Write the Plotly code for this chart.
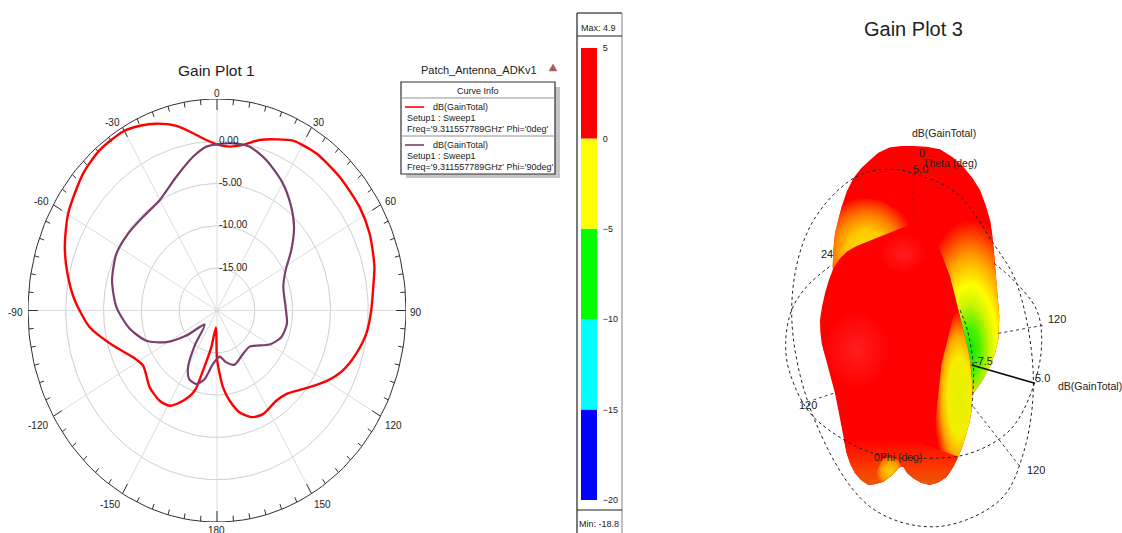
import numpy as np
import plotly.graph_objects as go

W, H = 1122, 533

# ---- Polar gain cuts (theta deg, gain dB) ----
theta_phi0 = [0,4.9,10,15.6,21.2,26.6,35.2,45.7,57,65.8,76,81.3,90,98,105.6,113,120,127.9,137.2,143.7,153.6,159.8,166,171,175,180,184,189.8,194.6,197.3,202.8,209,215.4,224.4,236.3,243.5,253.2,263.3,273.6,282.4,290.5,300.2,312.5,320.7,329.6,335,340,346.2,351.4,356,360]
gain_phi0 = [-0.36,-0.56,-0.13,0.93,1.7,2.45,2.75,2.64,2.48,2.14,1.46,0.94,0.4,-0.07,-0.9,-1.9,-3.3,-5.05,-6.53,-6.76,-6.32,-6.57,-7.57,-9.2,-10.88,-14.27,-18,-15.6,-12.65,-10.06,-8.42,-7.12,-6.91,-7.28,-8.25,-7.6,-5.65,-3.05,-1.16,0.25,1.49,2.78,4,4.5,4.53,4.09,3.5,2.47,1.19,0.2,-0.36]
theta_phi90 = [0,6.1,12.6,20.1,30.1,38.7,45.9,54.1,62.4,72.5,87.5,99.7,110.4,120,134.7,146.2,160,168.7,176.3,184.8,191.4,197.4,204.5,209.7,215.4,224.5,233.8,240.8,249.1,259.4,271.7,284.4,296.8,307.7,318.5,329.8,341.2,350.1,355.8,360]
gain_phi90 = [-0.36,-0.13,-0.16,-1.05,-2.63,-4.3,-5.81,-7.87,-9.76,-10.8,-10.92,-10.62,-10.93,-11.96,-13.93,-13.82,-13.19,-13.75,-14.54,-13.66,-11.74,-10.88,-11.1,-12.27,-14.91,-17.67,-14.98,-12.32,-10,-8.26,-6.69,-5.67,-5.1,-5.14,-5.23,-4.92,-3.3,-1.55,-0.58,-0.36]
ring_levels = [-15, -10, -5, 0]
ring_labels = ["-15.00", "-10.00", "-5.00", "0.00"]
radial_min, radial_max = -20, 5
angle_labels = ["0","30","60","90","120","150","180","-150","-120","-90","-60","-30"]

# ---- Colour scale ----
scale_low = [-20, -15, -10, -5, 0]
scale_step = [5, 5, 5, 5, 5]
scale_colors = ["#0000ff", "#00ffff", "#00ff00", "#ffff00", "#ff0000"]
scale_ticks = [5, 0, -5, -10, -15, -20]

# ---- 3D pattern projection, outlines (projection units) ----
back_x = [430,395,360,325,300,272,250,230,215,204,195,190,188,300,500,610,635,660,675,685,688,684,680,676,672,667,660,647,630,608,580,548,510,470]
back_y = [108,108,112,128,150,176,205,245,290,330,370,420,470,700,800,850,815,770,730,690,620,570,520,470,420,375,330,285,240,205,170,142,118,110]
left_x = [188,190,195,204,215,250,330,430,430,190]
left_y = [475,420,370,330,290,262,270,330,420,480]
right_x = [470,560,660,667,672,676,680,684,688,685,675,660,635,610,590,540]
right_y = [335,335,330,375,420,470,520,570,620,690,730,770,815,850,800,500]
front_x = [430,400,370,330,290,258,230,208,190,176,165,156,150,151,155,164,175,185,195,205,215,222,230,241,255,273,295,318,340,365,385,393,400,412,430,453,480,507,530,549,565,579,590,599,605,608,605,600,593,585,575,565,553,540,526,510,495,480,464,450]
front_y = [340,352,365,380,395,409,425,448,475,512,550,590,630,665,700,735,770,810,850,900,950,990,1030,1062,1090,1110,1125,1122,1115,1097,1075,1070,1070,1090,1105,1118,1125,1116,1100,1072,1040,1005,970,935,900,830,790,750,715,680,640,600,550,500,460,420,395,370,355,345]
strip_x = [565,575,585,593,600,605,608,605,599,590,579,565,549,530,507,490,490,505,515,535,550]
strip_y = [600,640,680,715,750,790,830,900,935,970,1005,1040,1072,1100,1116,1122,1000,850,760,680,620]
edge_x = [222,230,241,255,273,295,318,340,365,385,393,400,412,430,453,480,507,530,549,565,450,340]
edge_y = [990,1030,1062,1090,1110,1125,1122,1115,1097,1075,1070,1070,1090,1105,1118,1125,1116,1100,1072,1040,1000,990]
foot_x = [340,365,385,393,385,360,335,320,325]
foot_y = [1115,1097,1075,1070,1050,1040,1050,1085,1120]
glow_a_x = [260,330,360,330,260,190,160,190]
glow_a_y = [600,640,720,800,840,800,720,640]
glow_b_x = [400,450,470,450,400,350,330,350]
glow_b_y = [370,390,430,470,490,470,430,390]

ring_a_x = [350,430,560,670,740,790,760,690,500,300,130,65,120,250,350]
ring_a_y = [178,190,250,400,520,800,1030,1170,1250,1190,920,600,350,205,178]
ring_b_x = [672,730,800,815,790,720,600,470,310,130,60,47,65,110,185]
ring_b_y = [460,510,600,700,830,960,1030,1045,1030,920,790,700,600,530,465]
ring_c_x = [570,592,610,606]
ring_c_y = [600,660,770,890]
spoke_sets = [([430,430],[190,320]),([685,825],[670,645]),([130,190],[870,850]),([610,750],[890,1070])]
radius_x = [605,795]
radius_y = [765,820]


def px_x(v):
    return v / W


def px_y(v):
    return 1 - v / H


def xdom(a, b):
    return [px_x(a), px_x(b)]


def ydom(top, bot):
    return [px_y(bot), px_y(top)]


fig = go.Figure()


def to_xy(theta, gain):
    t = np.radians(np.asarray(theta, float))
    r = np.asarray(gain, float) - radial_min
    return r * np.sin(t), r * np.cos(t)


rx, ry = [], []
circ = np.arange(0, 361, 2.0)
for lv in ring_levels:
    a, b = to_xy(circ, np.full(circ.shape, lv))
    rx += list(a) + [None]
    ry += list(b) + [None]
fig.add_trace(go.Scatter(x=rx, y=ry, mode="lines", line=dict(color="#cfcfcf", width=1), hoverinfo="skip"))
sx, sy = [], []
for a in range(0, 360, 30):
    p, q = to_xy([a, a], [radial_min, radial_max])
    sx += list(p) + [None]
    sy += list(q) + [None]
fig.add_trace(go.Scatter(x=sx, y=sy, mode="lines", line=dict(color="#dcdcdc", width=1), hoverinfo="skip"))
a, b = to_xy(circ, np.full(circ.shape, radial_max))
fig.add_trace(go.Scatter(x=a, y=b, mode="lines", line=dict(color="#303030", width=1), hoverinfo="skip"))
tx, ty = [], []
for a in range(0, 360, 5):
    ln = 1.3 if a % 30 == 0 else 0.65
    p, q = to_xy([a, a], [radial_max, radial_max - ln])
    tx += list(p) + [None]
    ty += list(q) + [None]
fig.add_trace(go.Scatter(x=tx, y=ty, mode="lines", line=dict(color="#303030", width=1), hoverinfo="skip"))

p0x, p0y = to_xy(theta_phi0, gain_phi0)
p9x, p9y = to_xy(theta_phi90, gain_phi90)
fig.add_trace(go.Scatter(x=p0x, y=p0y, mode="lines", name="Phi 0deg", line=dict(color="#ff0000", width=2.4, shape="spline", smoothing=0.7)))
fig.add_trace(go.Scatter(x=p9x, y=p9y, mode="lines", name="Phi 90deg", line=dict(color="#7b3f6e", width=2.2, shape="spline", smoothing=0.7)))

fig.add_trace(go.Bar(x=[0] * 5, y=scale_step, base=scale_low, width=1, marker=dict(color=scale_colors, line=dict(width=0)), xaxis="x2", yaxis="y2", hoverinfo="skip"))


def blob(xs, ys, color):
    fig.add_trace(go.Scatter(x=xs, y=ys, xaxis="x3", yaxis="y3", mode="lines", fill="toself", fillcolor=color,
                             line=dict(width=0), hoverinfo="skip"))


def radial(xs, ys, cx, cy, ex, ey, stops):
    """Radial shaded patch: zero-area spurs stretch its box so the shading centres on (cx, cy)."""
    px = list(xs) + [xs[0], cx - ex, xs[0], cx + ex, xs[0]]
    py = list(ys) + [ys[0], cy - ey, ys[0], cy + ey, ys[0]]
    fig.add_trace(go.Scatter(x=px, y=py, xaxis="x3", yaxis="y3", mode="lines", fill="toself",
                             fillgradient=dict(type="radial", colorscale=stops),
                             line=dict(width=0), hoverinfo="skip"))


blob(back_x, back_y, "#ff0000")
radial(left_x, left_y, 290, 425, 150, 165,
       [[0, "#f4e000"], [0.4, "#ffc800"], [0.72, "#ff7000"], [1, "#ff0000"]])
radial(right_x, right_y, 600, 730, 165, 380,
       [[0, "#10ea00"], [0.18, "#50f000"], [0.36, "#d0f400"], [0.5, "#ffff00"], [0.72, "#ffa000"], [1, "#ff0000"]])
blob(front_x, front_y, "#ff0000")
radial(glow_a_x, glow_a_y, 260, 720, 100, 120, [[0, "#ff1e1e"], [1, "#ff0000"]])
radial(glow_b_x, glow_b_y, 400, 430, 70, 60, [[0, "#ff1e1e"], [1, "#ff0000"]])
radial(strip_x, strip_y, 572, 905, 75, 215,
       [[0, "#e4f000"], [0.45, "#f4ee00"], [0.7, "#ffa800"], [1, "#ff0000"]])
fig.add_trace(go.Scatter(x=edge_x, y=edge_y, xaxis="x3", yaxis="y3", mode="lines", fill="toself",
                         fillgradient=dict(type="vertical", colorscale=[[0, "#e85a00"], [0.5, "#ff3000"], [1, "#ff0000"]]),
                         line=dict(width=0), hoverinfo="skip"))
radial(foot_x, foot_y, 360, 1085, 45, 50,
       [[0, "#f0d400"], [0.55, "#ffa000"], [1, "#ff4000"]])

dot = dict(color="#202020", width=1, dash="dot", shape="spline", smoothing=1)
for xs, ys in [(ring_a_x, ring_a_y), (ring_b_x, ring_b_y), (ring_c_x, ring_c_y)]:
    fig.add_trace(go.Scatter(x=xs, y=ys, xaxis="x3", yaxis="y3", mode="lines", line=dot, hoverinfo="skip"))
for xs, ys in spoke_sets:
    fig.add_trace(go.Scatter(x=xs, y=ys, xaxis="x3", yaxis="y3", mode="lines", line=dict(color="#404040", width=1, dash="dot"), hoverinfo="skip"))
fig.add_trace(go.Scatter(x=radius_x, y=radius_y, xaxis="x3", yaxis="y3", mode="lines", line=dict(color="#101010", width=1.6), hoverinfo="skip"))

FONT = "Liberation Sans, Arial"
ann = []


def txt(x, y, s, size=10, anchor="center", color="#222222", fam=FONT):
    ann.append(dict(x=px_x(x), y=px_y(y), xref="paper", yref="paper", text=s, showarrow=False,
                    xanchor=anchor, yanchor="middle", font=dict(size=size, color=color, family=fam)))


txt(217, 70, "Gain Plot 1", 15.5)
label_pos = [(217, 93), (319, 122), (391, 201), (416, 312), (393, 425), (322, 504), (217, 530), (110, 504), (38, 425), (15, 312), (41, 201), (112, 122)]
for (lx, ly), s in zip(label_pos, angle_labels):
    txt(lx, ly, s, 10)
for ly, s in zip([267, 224, 182, 140], ring_labels):
    txt(217, ly, s, 10, anchor="left")

txt(479, 70, "Patch_Antenna_ADKv1", 11)
txt(478, 91, "Curve Info", 9)
for base in (107, 145):
    txt(431, base, "dB(GainTotal)", 9, anchor="left")
    txt(405, base + 11, "Setup1 : Sweep1", 9, anchor="left")
txt(405, 129, "Freq='9.311557789GHz' Phi='0deg'", 9, anchor="left")
txt(405, 167, "Freq='9.311557789GHz' Phi='90deg'", 9, anchor="left")

txt(598, 28, "Max: 4.9", 9)
txt(599, 524, "Min: -18.8", 9)

txt(913, 29, "Gain Plot 3", 20)
txt(944, 133, "dB(GainTotal)", 10.5)
txt(950, 163, "Theta (deg)", 10.5)
txt(922, 153, "0", 11)
txt(920, 169, "5.0", 11)
txt(827, 254, "24", 11)
txt(1057, 319, "120", 11)
txt(983, 361, "-7.5", 11)
txt(1042, 378, "5.0", 11)
txt(1090, 386, "dB(GainTotal)", 10.5)
txt(808, 405, "120", 11)
txt(898, 457, "0Phi (deg)", 10.5)
txt(1036, 470, "120", 11)

shapes = []


def rect(x0, y0, x1, y1, fill=None, line="#000000", lw=1):
    shapes.append(dict(type="rect", xref="paper", yref="paper", x0=px_x(x0), x1=px_x(x1), y0=px_y(y1), y1=px_y(y0),
                       fillcolor=fill, line=dict(color=line, width=lw), layer="below"))


def seg(x0, y0, x1, y1, color="#000000", lw=1):
    shapes.append(dict(type="line", xref="paper", yref="paper", x0=px_x(x0), x1=px_x(x1), y0=px_y(y0), y1=px_y(y1),
                       line=dict(color=color, width=lw), layer="above"))


rect(406, 87, 560, 178, fill="#c4c4c4", line="#c4c4c4", lw=0)
rect(401, 82, 555, 174, fill="#ffffff", line="#303030", lw=1.2)
seg(401, 98, 555, 98, "#909090")
seg(401, 136, 555, 136, "#909090")
seg(405, 107, 424, 107, "#ff0000", 1.6)
seg(405, 145, 424, 145, "#7b3f6e", 1.6)
shapes.append(dict(type="path", xref="paper", yref="paper",
                   path=f"M {px_x(549)} {px_y(71)} L {px_x(557)} {px_y(71)} L {px_x(553)} {px_y(64)} Z",
                   fillcolor="#c05050", line=dict(color="#808080", width=0.5)))
seg(577, 13, 622, 13, "#000000", 1.2)
seg(577, 13, 577, 533, "#202020", 1.2)
seg(622, 13, 622, 533, "#808080", 1)
seg(577, 36, 622, 36, "#202020", 1.2)
seg(577, 510, 622, 510, "#202020", 1.2)

hidden = dict(visible=False, showgrid=False, zeroline=False)
fig.update_layout(
    width=W, height=H, autosize=False, margin=dict(l=0, r=0, t=0, b=0, autoexpand=False), showlegend=False,
    paper_bgcolor="white", plot_bgcolor="white", barmode="overlay",
    xaxis=dict(domain=xdom(28, 406), range=[-25, 25], **hidden),
    yaxis=dict(domain=ydom(99, 522), range=[-25, 25], **hidden),
    xaxis2=dict(domain=xdom(581, 597), range=[-0.5, 0.5], anchor="y2", **hidden),
    yaxis2=dict(domain=ydom(48, 500), range=[-20, 5], anchor="x2", side="right", tickvals=scale_ticks,
                showgrid=False, zeroline=False, showline=False, ticks="outside", ticklen=3, tickcolor="rgba(0,0,0,0)",
                tickfont=dict(size=9, family=FONT, color="#222222")),
    xaxis3=dict(domain=xdom(770, 1122), range=[0, 1056], anchor="y3", **hidden),
    yaxis3=dict(domain=ydom(110, 533), range=[1269, 0], anchor="x3", **hidden),
    annotations=ann, shapes=shapes,
)
fig.write_html("out.html", config=dict(displayModeBar=False),
               post_script="document.body.style.margin='0';document.body.style.overflow='hidden';")
